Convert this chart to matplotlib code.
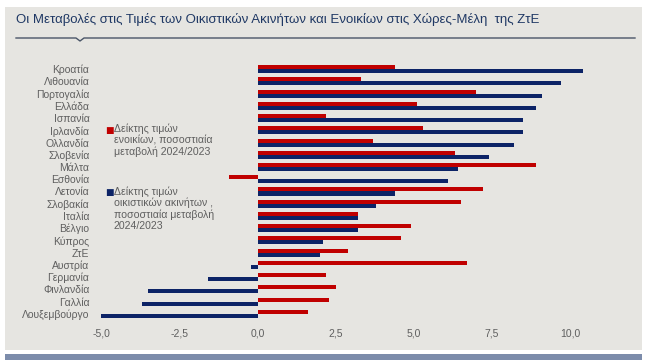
import numpy as np
import matplotlib.pyplot as plt
from matplotlib.patches import Rectangle
from matplotlib.lines import Line2D

countries = ['Κροατία', 'Λιθουανία', 'Πορτογαλία', 'Ελλάδα', 'Ισπανία', 'Ιρλανδία',
             'Ολλανδία', 'Σλοβενία', 'Μάλτα', 'Εσθονία', 'Λετονία', 'Σλοβακία',
             'Ιταλία', 'Βέλγιο', 'Κύπρος', 'ΖτΕ', 'Αυστρία', 'Γερμανία',
             'Φινλανδία', 'Γαλλία', 'Λουξεμβούργο']
rents = [4.4, 3.3, 7.0, 5.1, 2.2, 5.3, 3.7, 6.3, 8.9, -0.9, 7.2, 6.5,
         3.2, 4.9, 4.6, 2.9, 6.7, 2.2, 2.5, 2.3, 1.6]
house_prices = [10.4, 9.7, 9.1, 8.9, 8.5, 8.5, 8.2, 7.4, 6.4, 6.1, 4.4, 3.8,
                3.2, 3.2, 2.1, 2.0, -0.2, -1.6, -3.5, -3.7, -5.0]
xticks = [-5.0, -2.5, 0.0, 2.5, 5.0, 7.5, 10.0]

rent_label = 'Δείκτης τιμών\nενοικίων, ποσοστιαία\nμεταβολή 2024/2023'
house_label = 'Δείκτης τιμών\nοικιστικών ακινήτων ,\nποσοστιαία μεταβολή\n2024/2023'

RED = '#C00000'
NAVY = '#0C2366'
PANEL = '#E6E5E1'
GREY = '#5F5F5F'

plt.rcParams['font.family'] = ['Liberation Sans', 'DejaVu Sans']

W, H = 654, 360
fig = plt.figure(figsize=(W / 100, H / 100), dpi=100)
fig.patch.set_facecolor('white')

# panel background and bottom band
fig.add_artist(Rectangle((5 / W, 1 - 350 / H), 637 / W, 343 / H, transform=fig.transFigure,
                         facecolor=PANEL, edgecolor='none', zorder=-10))
fig.add_artist(Rectangle((5 / W, 0), 637 / W, 6 / H, transform=fig.transFigure,
                         facecolor='#7C8CAB', edgecolor='none', zorder=-10))

# title and underline with notch
fig.text(16 / W, 1 - 20 / H, 'Οι Μεταβολές στις Τιμές των Οικιστικών Ακινήτων και Ενοικίων στις Χώρες-Μέλη  της ΖτΕ',
         fontsize=9.5, color='#1F3864', va='center', ha='left')
lx = np.array([16, 76, 80, 84, 635]) / W
ly = 1 - np.array([38, 38, 41, 38, 38]) / H
fig.add_artist(Line2D(lx, ly, transform=fig.transFigure, color='#4A5568', lw=1.0))

ax = fig.add_axes([95 / W, 1 - 320 / H, 544 / W, 257 / H])
ax.set_facecolor('none')

y = np.arange(len(countries))
h = 0.33
ax.barh(y - h / 2, rents, height=h, color=RED)
ax.barh(y + h / 2, house_prices, height=h, color=NAVY)

ax.set_xlim(-5.2, 12.2)
ax.set_ylim(len(countries) - 0.5, -0.5)
ax.set_yticks(y)
ax.set_yticklabels(countries)
ax.set_xticks(xticks)
ax.set_xticklabels([f'{v:.1f}'.replace('.', ',') for v in xticks])
ax.tick_params(length=0, labelsize=7.5, colors=GREY, pad=6)
ax.tick_params(axis='y', pad=4)
for s in ax.spines.values():
    s.set_visible(False)

# legend as two text blocks with square markers
for label, col, ytop in [(rent_label, RED, 130), (house_label, NAVY, 192)]:
    fig.text(105 / W, 1 - ytop / H, '■', color=col, fontsize=6.5, va='center', ha='left',
             family='DejaVu Sans')
    fig.text(114 / W, 1 - (ytop - 6) / H, label, color=GREY, fontsize=7.6, va='top', ha='left',
             linespacing=1.15)

fig.savefig('out.png', dpi=100)
